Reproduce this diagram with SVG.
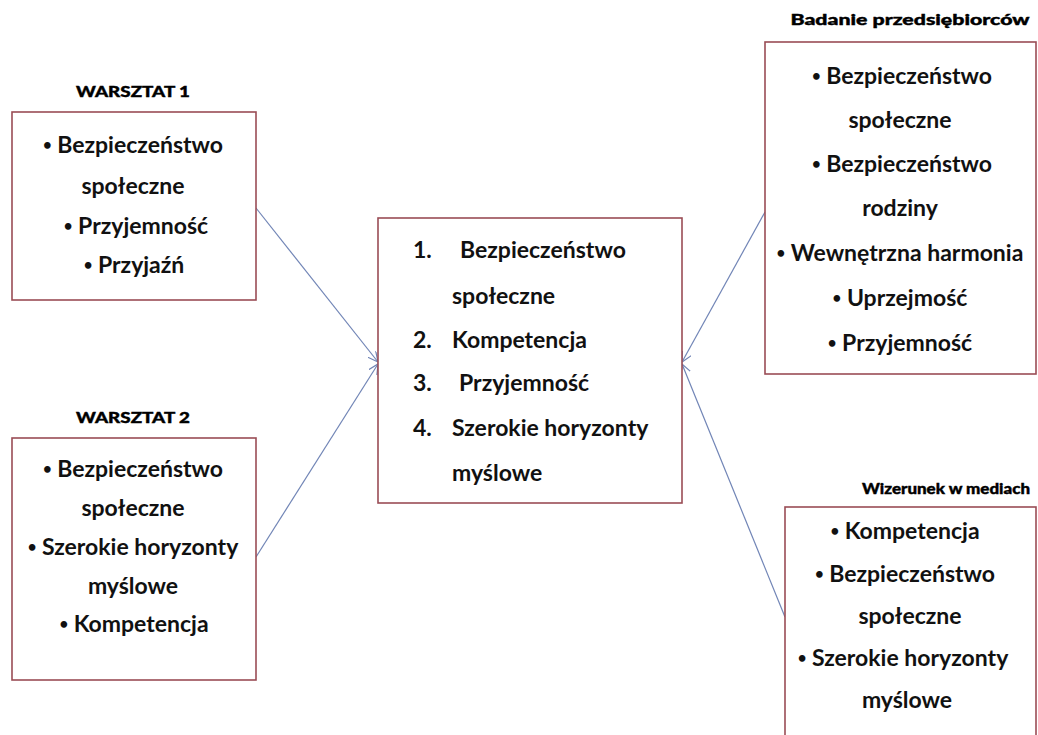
<svg xmlns="http://www.w3.org/2000/svg" width="1038" height="735" viewBox="0 0 1038 735">
<defs>
<style>
.box{fill:#fff;stroke:#9a4d55;stroke-width:1.6}
.t{font-family:Lato,"Liberation Sans",sans-serif;font-weight:700;font-size:23px;fill:#111;text-anchor:middle}
.tl{font-family:Lato,"Liberation Sans",sans-serif;font-weight:700;font-size:23px;fill:#111}
.b{font-size:15px}
.h{font-family:Lato,"Liberation Sans",sans-serif;font-weight:900;font-size:15px;fill:#000;stroke:#000;stroke-width:0.4;text-anchor:middle}
.c{stroke:#7185b6;stroke-width:1.2;fill:none;marker-end:url(#arr)}
</style>
<marker id="arr" markerWidth="12" markerHeight="12" refX="10" refY="5" orient="auto" markerUnits="userSpaceOnUse">
<path d="M0,0 L10,5 L0,10" fill="none" stroke="#7185b6" stroke-width="1.2"/>
</marker>
</defs>
<rect width="1038" height="735" fill="#fff"/>
<g id="connectors">
<line class="c" x1="256" y1="208" x2="378" y2="362"/>
<line class="c" x1="256" y1="557" x2="378" y2="364"/>
<line class="c" x1="765" y1="212" x2="682" y2="362"/>
<line class="c" x1="785" y1="617" x2="682" y2="364"/>
</g>
<g id="warsztat1">
<text class="h" x="133" y="97" textLength="114" lengthAdjust="spacingAndGlyphs">WARSZTAT 1</text>
<rect class="box" x="12" y="112" width="244" height="188"/>
<text class="t" x="133" y="153"><tspan class="b" baseline-shift="3">•</tspan> Bezpieczeństwo</text>
<text class="t" x="133" y="194">społeczne</text>
<text class="t" x="136" y="234"><tspan class="b" baseline-shift="3">•</tspan> Przyjemność</text>
<text class="t" x="134" y="273"><tspan class="b" baseline-shift="3">•</tspan> Przyjaźń</text>
</g>
<g id="warsztat2">
<text class="h" x="133" y="423" textLength="114" lengthAdjust="spacingAndGlyphs">WARSZTAT 2</text>
<rect class="box" x="12" y="438" width="244" height="242"/>
<text class="t" x="133" y="477"><tspan class="b" baseline-shift="3">•</tspan> Bezpieczeństwo</text>
<text class="t" x="133" y="516">społeczne</text>
<text class="t" x="133" y="555"><tspan class="b" baseline-shift="3">•</tspan> Szerokie horyzonty</text>
<text class="t" x="133" y="594">myślowe</text>
<text class="t" x="134" y="632"><tspan class="b" baseline-shift="3">•</tspan> Kompetencja</text>
</g>
<g id="center">
<rect class="box" x="378" y="218" width="304" height="285"/>
<text class="tl" x="413" y="258">1.</text>
<text class="tl" x="460" y="258">Bezpieczeństwo</text>
<text class="tl" x="452" y="304">społeczne</text>
<text class="tl" x="413" y="348">2.</text>
<text class="tl" x="452" y="348">Kompetencja</text>
<text class="tl" x="413" y="391">3.</text>
<text class="tl" x="459" y="391">Przyjemność</text>
<text class="tl" x="413" y="436">4.</text>
<text class="tl" x="452" y="436">Szerokie horyzonty</text>
<text class="tl" x="452" y="481">myślowe</text>
</g>
<g id="przedsiebiorcy">
<text class="h" x="910" y="25" textLength="239" lengthAdjust="spacingAndGlyphs">Badanie przedsiębiorców</text>
<rect class="box" x="765" y="42" width="271" height="332"/>
<text class="t" x="902" y="84"><tspan class="b" baseline-shift="3">•</tspan> Bezpieczeństwo</text>
<text class="t" x="900" y="128">społeczne</text>
<text class="t" x="902" y="172"><tspan class="b" baseline-shift="3">•</tspan> Bezpieczeństwo</text>
<text class="t" x="900" y="216">rodziny</text>
<text class="t" x="900" y="261"><tspan class="b" baseline-shift="3">•</tspan> Wewnętrzna harmonia</text>
<text class="t" x="900" y="306"><tspan class="b" baseline-shift="3">•</tspan> Uprzejmość</text>
<text class="t" x="900" y="351"><tspan class="b" baseline-shift="3">•</tspan> Przyjemność</text>
</g>
<g id="media">
<text class="h" x="946" y="494" textLength="168" lengthAdjust="spacingAndGlyphs">Wizerunek w mediach</text>
<rect class="box" x="785" y="507" width="251" height="245"/>
<text class="t" x="905" y="539"><tspan class="b" baseline-shift="3">•</tspan> Kompetencja</text>
<text class="t" x="905" y="582"><tspan class="b" baseline-shift="3">•</tspan>  Bezpieczeństwo</text>
<text class="t" x="910" y="624">społeczne</text>
<text class="t" x="903" y="666"><tspan class="b" baseline-shift="3">•</tspan> Szerokie horyzonty</text>
<text class="t" x="907" y="708">myślowe</text>
</g>
</svg>
